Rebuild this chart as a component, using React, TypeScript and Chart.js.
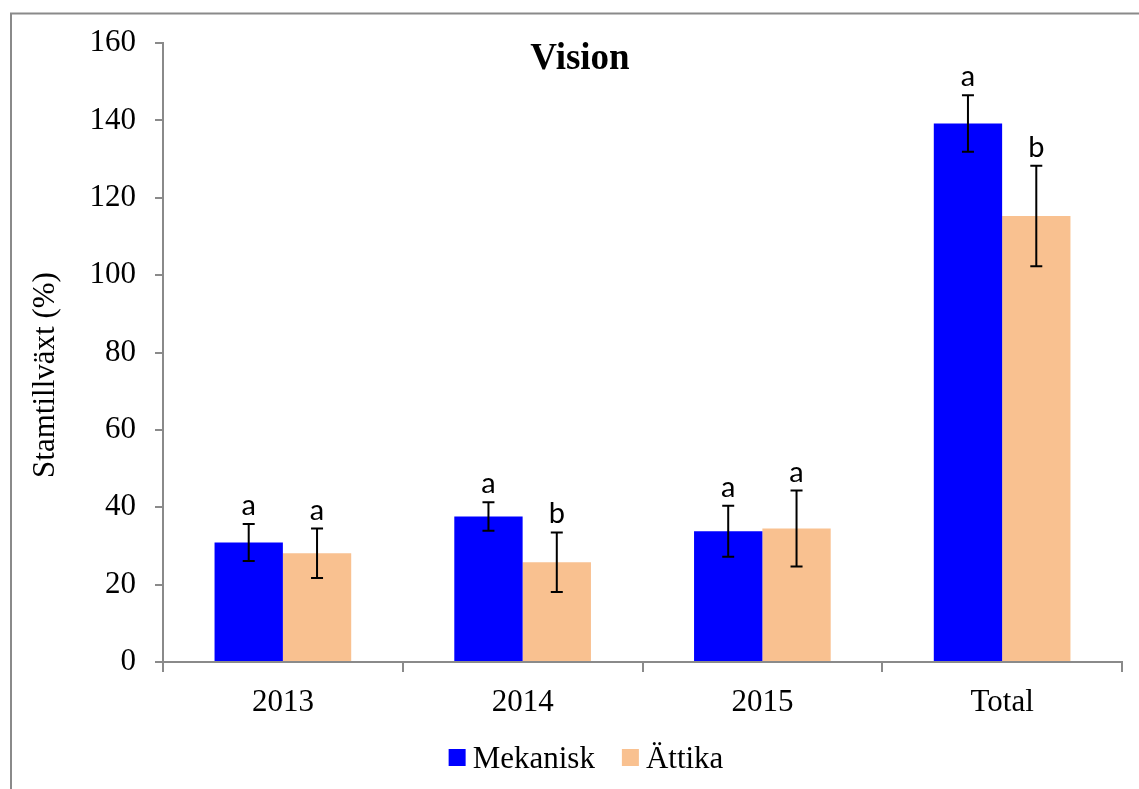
import React, { useEffect, useRef } from 'react';
import { Chart, registerables } from 'chart.js';

Chart.register(...registerables);

const categories = ['2013', '2014', '2015', 'Total'];
const seriesNames = ['Mekanisk', 'Ättika'];
const mekanisk = [30.9, 37.6, 33.8, 139.2];
const mekaniskErr = [4.8, 3.7, 6.6, 7.3];
const attika = [28.1, 25.8, 34.5, 115.3];
const attikaErr = [6.4, 7.7, 9.8, 13.0];
const mekaniskSig = ['a', 'a', 'a', 'a'];
const attikaSig = ['a', 'b', 'a', 'b'];
const yMin = 0;
const yMax = 160;
const yStep = 20;
const chartTitle = 'Vision';
const yTitle = 'Stamtillväxt (%)';

const W = 1139;
const H = 789;
const GRAY = '#8a8a8a';
const SERIF = '"Liberation Serif", "Times New Roman", serif';
const SANS = 'Lato, "Noto Sans", sans-serif';
const BLUE = '#0000FF';
const PEACH = '#F9C190';

const errs = [mekaniskErr, attikaErr];
const sigs = [mekaniskSig, attikaSig];

const framePlugin = {
  id: 'frame',
  beforeDraw(chart: any) {
    const ctx = chart.ctx;
    ctx.save();
    ctx.fillStyle = '#fff';
    ctx.fillRect(0, 0, W, H);
    ctx.strokeStyle = GRAY;
    ctx.lineWidth = 2;
    ctx.beginPath();
    ctx.moveTo(11, H);
    ctx.lineTo(11, 13.5);
    ctx.lineTo(W, 13.5);
    ctx.stroke();
    ctx.restore();
  },
};

const errorPlugin = {
  id: 'errorBars',
  afterDatasetsDraw(chart: any) {
    const ctx = chart.ctx;
    const y = chart.scales.y;
    ctx.save();
    chart.data.datasets.forEach((ds: any, di: number) => {
      const meta = chart.getDatasetMeta(di);
      meta.data.forEach((bar: any, i: number) => {
        const v = ds.data[i];
        const e = errs[di][i];
        const top = y.getPixelForValue(v + e);
        const bot = y.getPixelForValue(v - e);
        const x = bar.x;
        ctx.strokeStyle = '#000';
        ctx.lineWidth = 2;
        ctx.beginPath();
        ctx.moveTo(x, top);
        ctx.lineTo(x, bot);
        ctx.moveTo(x - 6, top);
        ctx.lineTo(x + 6, top);
        ctx.moveTo(x - 6, bot);
        ctx.lineTo(x + 6, bot);
        ctx.stroke();
        ctx.fillStyle = '#000';
        ctx.font = `29px ${SANS}`;
        ctx.textAlign = 'center';
        ctx.textBaseline = 'alphabetic';
        ctx.fillText(sigs[di][i], x, top - 9);
      });
    });
    ctx.restore();
  },
};

const titlePlugin = {
  id: 'customTitle',
  afterDraw(chart: any) {
    const ctx = chart.ctx;
    ctx.save();
    ctx.fillStyle = '#000';
    ctx.font = `bold 37px ${SERIF}`;
    ctx.textAlign = 'center';
    ctx.textBaseline = 'alphabetic';
    ctx.fillText(chartTitle, 580, 69);
    ctx.font = `31px ${SERIF}`;
    ctx.translate(54, 375);
    ctx.rotate(-Math.PI / 2);
    ctx.textAlign = 'center';
    ctx.fillText(yTitle, 0, 0);
    ctx.restore();
  },
};

const legendPlugin = {
  id: 'customLegend',
  afterDraw(chart: any) {
    const ctx = chart.ctx;
    ctx.save();
    ctx.font = `31px ${SERIF}`;
    const box = 17;
    const gapText = 7;
    const gapItem = 27;
    const items = chart.data.datasets.map((ds: any) => ({
      label: ds.label,
      color: ds.backgroundColor,
      w: ctx.measureText(ds.label).width,
    }));
    const total = items.reduce((s: number, it: any) => s + box + gapText + it.w, 0) + gapItem * (items.length - 1);
    let x = 586 - total / 2;
    const baseline = 768;
    items.forEach((it: any) => {
      ctx.fillStyle = it.color;
      ctx.fillRect(x, 749, box, box);
      x += box + gapText;
      ctx.fillStyle = '#000';
      ctx.textAlign = 'left';
      ctx.textBaseline = 'alphabetic';
      ctx.fillText(it.label, x, baseline);
      x += it.w + gapItem;
    });
    ctx.restore();
  },
};

export default function App() {
  const ref = useRef<HTMLCanvasElement>(null);
  useEffect(() => {
    const chart = new Chart(ref.current as HTMLCanvasElement, {
      type: 'bar',
      data: {
        labels: categories,
        datasets: [
          { label: seriesNames[0], data: mekanisk, backgroundColor: BLUE, borderWidth: 0 },
          { label: seriesNames[1], data: attika, backgroundColor: PEACH, borderWidth: 0 },
        ],
      },
      options: {
        responsive: false,
        animation: false,
        layout: { padding: { left: 24, right: 17, top: 43, bottom: 77 } },
        plugins: {
          legend: { display: false },
          title: { display: false },
          tooltip: { enabled: false },
        },
        datasets: { bar: { categoryPercentage: 0.57, barPercentage: 1 } },
        scales: {
          x: {
            offset: true,
            grid: { offset: true, drawOnChartArea: false, drawTicks: true, tickLength: 10, color: GRAY, lineWidth: 2 },
            border: { display: true, color: GRAY, width: 2 },
            ticks: { color: '#000', font: { family: SERIF, size: 31 }, padding: 12 },
            afterFit: (s: any) => { s.height = 50; },
          },
          y: {
            min: yMin,
            max: yMax,
            grid: { drawOnChartArea: false, drawTicks: true, tickLength: 8, color: GRAY, lineWidth: 2 },
            border: { display: true, color: GRAY, width: 2 },
            ticks: { stepSize: yStep, color: '#000', font: { family: SERIF, size: 31 }, padding: 19 },
            title: { display: false },
            afterFit: (s: any) => { s.width = 139; },
          },
        },
      } as any,
      plugins: [framePlugin, errorPlugin, titlePlugin, legendPlugin],
    });
    return () => chart.destroy();
  }, []);
  return (
    <div style={{ position: 'absolute', left: 0, top: 0, width: W, height: H, background: '#fff' }}>
      <canvas ref={ref} width={W} height={H} style={{ display: 'block' }} />
    </div>
  );
}
